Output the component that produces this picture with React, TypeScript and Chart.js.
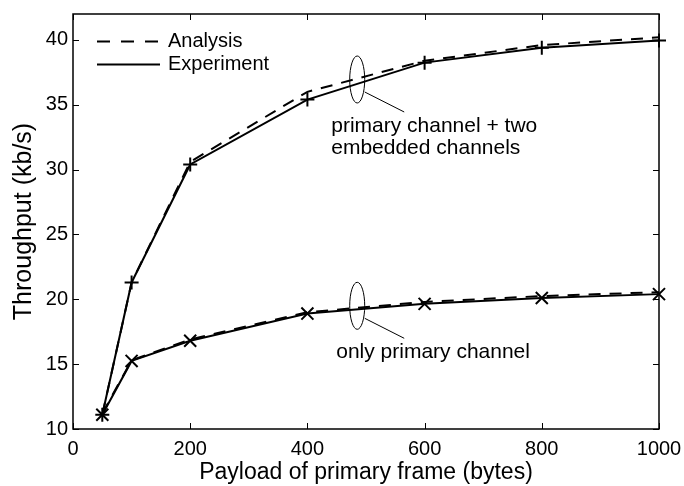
import React, { useEffect, useRef } from "react";
import { Chart, registerables } from "chart.js";

Chart.register(...registerables);

// ---------- data ----------
const payloadBytes = [50, 100, 200, 400, 600, 800, 1000];
const twoEmbeddedAnalysis = [11.1, 21.3, 30.6, 36.0, 38.4, 39.6, 40.2];
const twoEmbeddedExperiment = [11.1, 21.3, 30.4, 35.4, 38.25, 39.4, 39.95];
const primaryOnlyAnalysis = [11.2, 15.3, 16.9, 19.0, 19.8, 20.25, 20.55];
const primaryOnlyExperiment = [11.1, 15.25, 16.8, 18.9, 19.65, 20.1, 20.4];

const xTickValues = [0, 200, 400, 600, 800, 1000];
const yTickValues = [10, 15, 20, 25, 30, 35, 40];

const legendLabels = ["Analysis", "Experiment"];
const xTitle = "Payload of primary frame (bytes)";
const yTitle = "Throughput (kb/s)";

const upperNoteLines = ["primary channel + two", "embedded channels"];
const lowerNoteLines = ["only primary channel"];
// anchor of each annotation ellipse, in data units (payload, throughput)
const upperNoteAnchor = [485, 36.95];
const lowerNoteAnchor = [485, 19.5];

const FONT = '"Liberation Sans", Arial, Helvetica, sans-serif';

const toXY = (ys: number[]) => payloadBytes.map((x, i) => ({ x, y: ys[i] }));

const overlayPlugin = {
  id: "overlay",
  afterDatasetsDraw(chart: any) {
    const { ctx, chartArea } = chart;
    const xs = chart.scales.x;
    const ys = chart.scales.y;
    const { left, right, top, bottom } = chartArea;
    ctx.save();
    ctx.strokeStyle = "#000";
    ctx.fillStyle = "#000";

    // frame
    ctx.lineWidth = 1.5;
    ctx.strokeRect(left, top, right - left, bottom - top);

    // inward tick marks on all four sides
    const tl = 6;
    ctx.lineWidth = 1;
    ctx.beginPath();
    xTickValues.forEach((v) => {
      const px = Math.round(xs.getPixelForValue(v)) + 0.5;
      ctx.moveTo(px, bottom);
      ctx.lineTo(px, bottom - tl);
      ctx.moveTo(px, top);
      ctx.lineTo(px, top + tl);
    });
    yTickValues.forEach((v) => {
      const py = Math.round(ys.getPixelForValue(v)) + 0.5;
      ctx.moveTo(left, py);
      ctx.lineTo(left + tl, py);
      ctx.moveTo(right, py);
      ctx.lineTo(right - tl, py);
    });
    ctx.stroke();

    // legend
    ctx.font = `20px ${FONT}`;
    ctx.textBaseline = "middle";
    ctx.textAlign = "left";
    const lx0 = left + 24;
    const lx1 = left + 87;
    const ly = [top + 27.5, top + 50.5];
    ctx.lineWidth = 2;
    ctx.setLineDash([13, 11]);
    ctx.beginPath();
    ctx.moveTo(lx0, ly[0]);
    ctx.lineTo(lx1, ly[0]);
    ctx.stroke();
    ctx.setLineDash([]);
    ctx.beginPath();
    ctx.moveTo(lx0, ly[1]);
    ctx.lineTo(lx1, ly[1]);
    ctx.stroke();
    ctx.fillText(legendLabels[0], lx1 + 8, ly[0]);
    ctx.fillText(legendLabels[1], lx1 + 8, ly[1]);

    // annotations
    const drawNote = (anchor: number[], lines: string[], textDx: number) => {
      const cx = xs.getPixelForValue(anchor[0]);
      const cy = ys.getPixelForValue(anchor[1]);
      ctx.lineWidth = 1;
      ctx.beginPath();
      ctx.ellipse(cx, cy, 7.5, 23.5, 0, 0, Math.PI * 2);
      ctx.stroke();
      ctx.beginPath();
      ctx.moveTo(cx + 7.5, cy + 12.5);
      ctx.lineTo(cx + 47, cy + 32.5);
      ctx.stroke();
      ctx.font = `21px ${FONT}`;
      ctx.textBaseline = "alphabetic";
      lines.forEach((t, i) => {
        ctx.fillText(t, cx + textDx, cy + 52.5 + i * 22);
      });
    };
    drawNote(upperNoteAnchor, upperNoteLines, -26);
    drawNote(lowerNoteAnchor, lowerNoteLines, -21);

    ctx.restore();
  },
};

export default function App() {
  const canvasRef = useRef<HTMLCanvasElement | null>(null);

  useEffect(() => {
    document.body.style.margin = "0";
    const canvas = canvasRef.current;
    if (!canvas) return;
    const chart = new Chart(canvas, {
      type: "line",
      data: {
        datasets: [
          {
            label: "Analysis (two embedded)",
            data: toXY(twoEmbeddedAnalysis),
            borderColor: "#000",
            borderWidth: 2,
            borderDash: [12, 9],
            pointRadius: 0,
            tension: 0,
            fill: false,
          },
          {
            label: "Experiment (two embedded)",
            data: toXY(twoEmbeddedExperiment),
            borderColor: "#000",
            borderWidth: 2,
            pointStyle: "cross",
            pointRadius: 7,
            pointBorderWidth: 2,
            pointBorderColor: "#000",
            tension: 0,
            fill: false,
            clip: false,
          },
          {
            label: "Analysis (primary only)",
            data: toXY(primaryOnlyAnalysis),
            borderColor: "#000",
            borderWidth: 2,
            borderDash: [12, 9],
            pointRadius: 0,
            tension: 0,
            fill: false,
          },
          {
            label: "Experiment (primary only)",
            data: toXY(primaryOnlyExperiment),
            borderColor: "#000",
            borderWidth: 2,
            pointStyle: "crossRot",
            pointRadius: 8.5,
            pointBorderWidth: 2,
            pointBorderColor: "#000",
            tension: 0,
            fill: false,
            clip: false,
          },
        ] as any,
      },
      options: {
        animation: false,
        responsive: true,
        maintainAspectRatio: false,
        layout: { padding: { top: 14, right: 25, left: 0, bottom: 0 } },
        plugins: {
          legend: { display: false },
          tooltip: { enabled: false },
        },
        scales: {
          x: {
            type: "linear",
            min: 0,
            max: 1000,
            grid: { display: false, drawTicks: false },
            border: { display: false },
            afterBuildTicks: (scale: any) => {
              scale.ticks = xTickValues.map((v) => ({ value: v }));
            },
            afterFit: (scale: any) => {
              scale.height = 57;
              scale.paddingLeft = 0;
              scale.paddingRight = 0;
            },
            ticks: {
              color: "#000",
              font: { family: FONT, size: 20 },
              padding: 8,
              maxRotation: 0,
              autoSkip: false,
              callback: (v: any) => String(v),
            },
            title: {
              display: true,
              text: xTitle,
              color: "#000",
              font: { family: FONT, size: 23 },
              padding: { top: 0, bottom: 0 },
            },
          },
          y: {
            type: "linear",
            min: 10,
            max: 42,
            grid: { display: false, drawTicks: false },
            border: { display: false },
            afterBuildTicks: (scale: any) => {
              scale.ticks = yTickValues.map((v) => ({ value: v }));
            },
            afterFit: (scale: any) => {
              scale.width = 73;
              scale.paddingTop = 0;
              scale.paddingBottom = 0;
            },
            ticks: {
              color: "#000",
              font: { family: FONT, size: 20 },
              padding: 5,
              autoSkip: false,
              callback: (v: any) => String(v),
            },
            title: {
              display: true,
              text: yTitle,
              color: "#000",
              font: { family: FONT, size: 25 },
              padding: { top: 9, bottom: 0 },
            },
          },
        },
      } as any,
      plugins: [overlayPlugin],
    });
    return () => chart.destroy();
  }, []);

  return (
    <div style={{ position: "relative", width: 684, height: 486 }}>
      <canvas ref={canvasRef} />
    </div>
  );
}
